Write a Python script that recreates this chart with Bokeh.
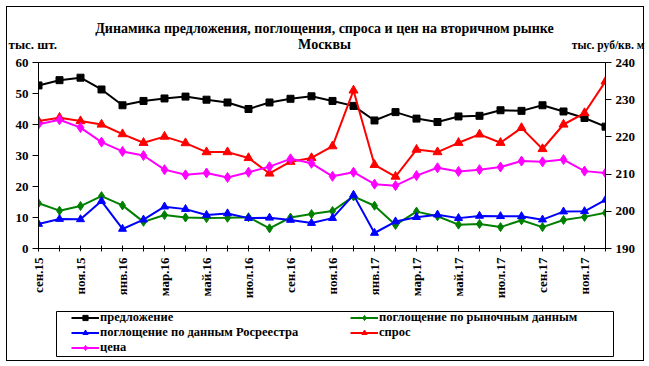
import math
from bokeh.plotting import figure
from bokeh.layouts import column
from bokeh.models import (Range1d, LinearAxis, FixedTicker, Legend, LegendItem, Label,
                          InlineStyleSheet)
from bokeh.embed import file_html
from bokeh.resources import INLINE

months = ["сен.15", "окт.15", "ноя.15", "дек.15", "янв.16", "фев.16", "мар.16", "апр.16",
          "май.16", "июн.16", "июл.16", "авг.16", "сен.16", "окт.16", "ноя.16", "дек.16",
          "янв.17", "фев.17", "мар.17", "апр.17", "май.17", "июн.17", "июл.17", "авг.17",
          "сен.17", "окт.17", "ноя.17", "дек.17"]

supply = [52.6, 54.3, 55.1, 51.3, 46.2, 47.6, 48.4, 49.0, 48.0, 47.1, 45.0, 47.1, 48.3, 49.1,
          47.6, 46.0, 41.3, 44.0, 41.9, 40.8, 42.6, 42.8, 44.6, 44.4, 46.2, 44.2, 42.1, 39.3]
absorb_market = [14.6, 12.2, 13.7, 16.9, 13.9, 8.6, 10.8, 10.0, 9.8, 9.9, 10.1, 6.5, 10.0, 11.1,
                 12.1, 16.8, 13.8, 7.6, 11.9, 10.4, 7.7, 7.9, 6.9, 9.1, 6.9, 9.2, 10.2, 11.5]
absorb_rosreestr = [7.9, 9.5, 9.4, 15.3, 6.3, 9.3, 13.5, 12.7, 10.8, 11.3, 9.8, 9.9, 9.2, 8.2,
                    9.8, 17.3, 5.0, 8.7, 10.1, 10.9, 9.8, 10.5, 10.4, 10.4, 9.3, 11.9, 12.0, 15.7]
demand = [41.1, 42.2, 41.1, 40.0, 36.9, 34.1, 36.1, 34.0, 31.1, 31.1, 29.2, 24.2, 28.0, 29.2,
          33.0, 51.0, 27.0, 23.2, 31.9, 31.1, 34.1, 36.8, 34.1, 38.9, 32.1, 40.0, 43.7, 53.9]
price = [223.4, 224.6, 222.5, 218.6, 216.1, 215.0, 211.2, 209.8, 210.3, 209.1, 210.5, 212.0,
         214.1, 212.9, 209.4, 210.5, 207.3, 206.9, 209.6, 211.7, 210.7, 211.2, 211.9, 213.5,
         213.3, 213.9, 210.8, 210.3]

title_line1 = "Динамика предложения, поглощения, спроса и цен на вторичном рынке"
title_line2 = "Москвы"
left_unit = "тыс. шт."
right_unit = "тыс. руб/кв. м"

x = list(range(len(months)))
FONT = "Liberation Serif"
W = 649

series = [
    ("предложение", supply, "black", "square", 7, "default"),
    ("поглощение по рыночным данным", absorb_market, "#008000", "diamond", 9, "default"),
    ("поглощение по данным Росреестра", absorb_rosreestr, "#0000FF", "triangle", 8, "default"),
    ("спрос", demand, "#FF0000", "triangle", 9, "default"),
    ("цена", price, "#FF00FF", "diamond", 10, "price"),
]

def no_align(fig):
    try:
        fig.frame_align = False
    except Exception:
        pass

# ---------- header (titles) ----------
head = figure(width=W, height=52, output_backend="svg", toolbar_location=None,
              x_axis_type=None, y_axis_type=None, title=None,
              x_range=Range1d(0, 1), y_range=Range1d(0, 1),
              min_border=0, min_border_left=0, min_border_right=0,
              min_border_top=0, min_border_bottom=0)
head.outline_line_color = None
head.xgrid.visible = False
head.ygrid.visible = False
no_align(head)

def lab(fig, text, vx, vy, align, size):
    fig.add_layout(Label(x=vx, y=vy, x_units="screen", y_units="screen", text=text,
                         text_font=FONT, text_font_style="bold", text_font_size=size,
                         text_align=align, text_baseline="middle", text_color="black"))

lab(head, title_line1, 324, 24, "center", "14px")
lab(head, title_line2, 324, 8, "center", "14px")
lab(head, left_unit, 8, 8, "left", "13px")
lab(head, right_unit, 644, 8, "right", "11.5px")

# ---------- main chart ----------
p = figure(width=W, height=254, output_backend="svg", toolbar_location=None, title=None,
           x_range=Range1d(0, len(months) - 1), y_range=Range1d(0, 60),
           min_border_left=38, min_border_right=44, min_border_top=10, min_border_bottom=58)
no_align(p)
p.extra_y_ranges = {"price": Range1d(190, 240)}
p.xgrid.visible = False
p.ygrid.visible = False
p.outline_line_color = "black"
p.outline_line_width = 1

def style_axis(ax):
    ax.axis_line_color = "black"
    ax.major_tick_line_color = "black"
    ax.minor_tick_line_color = None
    ax.major_label_text_font = FONT
    ax.major_label_text_font_style = "bold"
    ax.major_label_text_font_size = "13px"
    ax.major_label_text_color = "black"

xa = p.xaxis[0]
style_axis(xa)
xa.ticker = FixedTicker(ticks=x)
xa.major_label_overrides = {i: (months[i] if i % 2 == 0 else "") for i in x}
xa.major_label_orientation = math.pi / 2
xa.major_tick_in = 3
xa.major_tick_out = 3
xa.major_label_standoff = 6

ya = p.yaxis[0]
style_axis(ya)
ya.ticker = FixedTicker(ticks=[0, 10, 20, 30, 40, 50, 60])
ya.major_tick_in = 0
ya.major_tick_out = 6
ya.major_label_standoff = 4

ra = LinearAxis(y_range_name="price")
style_axis(ra)
ra.ticker = FixedTicker(ticks=[190, 200, 210, 220, 230, 240])
ra.major_tick_in = 0
ra.major_tick_out = 6
ra.major_label_standoff = 4
p.add_layout(ra, "right")

for name, vals, col, marker, size, rng in series:
    kw = {} if rng == "default" else {"y_range_name": rng}
    p.line(x, vals, line_color=col, line_width=2, **kw)
    p.scatter(x, vals, marker=marker, size=size, fill_color=col, line_color=col, **kw)

# ---------- legend panel ----------
lf = figure(width=W, height=60, output_backend="svg", toolbar_location=None,
            x_axis_type=None, y_axis_type=None, title=None,
            x_range=Range1d(1000, 1001), y_range=Range1d(1000, 1001),
            min_border_left=56, min_border_right=36, min_border_top=5, min_border_bottom=10)
no_align(lf)
lf.outline_line_color = "black"
lf.outline_line_width = 1
lf.xgrid.visible = False
lf.ygrid.visible = False

items = {}
for name, vals, col, marker, size, rng in series:
    l = lf.line(x, vals, line_color=col, line_width=2)
    m = lf.scatter(x, vals, marker=marker, size=7, fill_color=col, line_color=col)
    items[name] = LegendItem(label=name, renderers=[l, m])

order = ["предложение", "поглощение по данным Росреестра", "цена",
         "поглощение по рыночным данным", "спрос"]
legend = Legend(items=[items[n] for n in order], ncols=2, location=(15, 1),
                label_text_font=FONT, label_text_font_style="bold",
                label_text_font_size="12.5px", label_text_color="black",
                glyph_width=28, glyph_height=13, label_height=13, label_standoff=1,
                label_width=250, spacing=0, padding=0, margin=0,
                border_line_color=None, background_fill_alpha=0)
lf.add_layout(legend, "center")

layout = column(head, p, lf, spacing=0)
layout.stylesheets = [InlineStyleSheet(css=(
    ":host { position: relative; }"
    ":host::after { content: ''; position: absolute; left: 6px; top: 6px; width: 636px;"
    " height: 353px; border: 1px solid black; pointer-events: none; z-index: 100; }"))]

open("out.html", "w").write(file_html(layout, INLINE))
